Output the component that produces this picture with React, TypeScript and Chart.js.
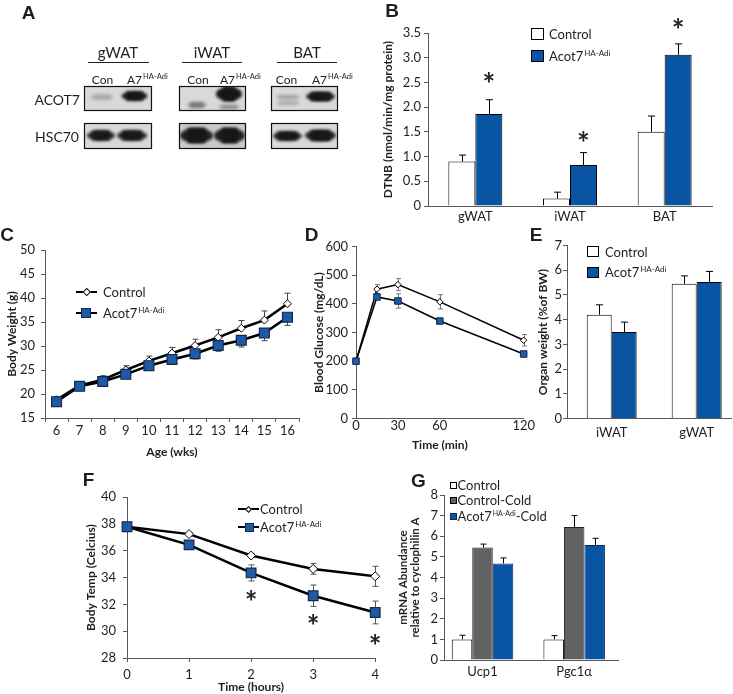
import React, { useEffect, useRef } from 'react';
import { Chart, registerables } from 'chart.js';
Chart.register(...registerables);

const FONT = 'Lato, "Open Sans", "DejaVu Sans", sans-serif';
const LETTER_FONT = '"Liberation Sans", Arial, sans-serif';
const TXT = '#1f1f1f';
const AXIS = '#595959';
const BLUE = '#0a55a3';
const MARK_BLUE = '#1d5ba6';
const NAVY = '#14284d';
const GREY = '#616264';

// ---------- Panel B: DTNB activity ----------
const bCategories = ['gWAT', 'iWAT', 'BAT'];
const bControl = [0.9, 0.15, 1.5];
const bControlErr = [0.13, 0.13, 0.32];
const bAcot = [1.86, 0.83, 3.06];
const bAcotErr = [0.29, 0.25, 0.22];
const bStars = [2.59, 1.4, 3.7];

// ---------- Panel C: body weight ----------
const cWeeks = ['6', '7', '8', '9', '10', '11', '12', '13', '14', '15', '16'];
const cControl = [18.8, 21.8, 23.0, 25.0, 26.9, 28.5, 30.1, 31.8, 33.7, 35.4, 38.8];
const cControlErr = [0.6, 0.7, 0.8, 0.9, 1.0, 1.2, 1.3, 1.6, 1.6, 1.9, 2.2];
const cAcot = [18.4, 21.6, 22.6, 24.1, 25.9, 27.2, 28.4, 30.1, 31.2, 32.7, 36.0];
const cAcotErr = [0.5, 0.6, 0.7, 0.8, 0.8, 0.9, 1.1, 1.2, 1.4, 1.6, 1.7];

// ---------- Panel D: glucose tolerance ----------
const dTimes = [0, 15, 30, 60, 120];
const dTickValues = [0, 30, 60, 120];
const dControl = [200, 451, 467, 407, 273];
const dControlErr = [4, 16, 21, 25, 20];
const dAcot = [200, 424, 410, 340, 225];
const dAcotErr = [4, 8, 25, 5, 8];

// ---------- Panel E: organ weight ----------
const eCategories = ['iWAT', 'gWAT'];
const eControl = [4.2, 5.45];
const eControlErr = [0.4, 0.32];
const eAcot = [3.5, 5.52];
const eAcotErr = [0.4, 0.43];

// ---------- Panel F: body temperature ----------
const fHours = [0, 1, 2, 3, 4];
const fControl = [37.8, 37.25, 35.65, 34.65, 34.1];
const fControlErr = [0.1, 0.12, 0.15, 0.4, 0.75];
const fAcot = [37.8, 36.45, 34.35, 32.65, 31.4];
const fAcotErr = [0.1, 0.2, 0.6, 0.8, 0.85];
const fStars = [null, null, 32.7, 30.85, 29.35];

// ---------- Panel G: mRNA ----------
const gCategories = ['Ucp1', 'Pgc1\u03b1'];
const gControl = [1.0, 1.0];
const gControlErr = [0.2, 0.18];
const gCold = [5.45, 6.45];
const gColdErr = [0.17, 0.55];
const gAcotCold = [4.68, 5.58];
const gAcotColdErr = [0.27, 0.32];

// ---------- plugins ----------
function valueOf(raw: any) {
  return typeof raw === 'number' ? raw : raw.y;
}

function drawErrors(chart: any, opts: any) {
  const ctx = chart.ctx;
  const ys = chart.scales.y;
  chart.data.datasets.forEach((ds: any, i: number) => {
    const meta = chart.getDatasetMeta(i);
    if (!ds.errUp && !ds.errDown) return;
    ctx.save();
    ctx.strokeStyle = opts.color || '#000';
    ctx.lineWidth = opts.width || 1;
    const cap = opts.cap || 6;
    meta.data.forEach((el: any, j: number) => {
      const v = valueOf(ds.data[j]);
      const x = Math.round(el.x) + 0.5;
      const y0 = ys.getPixelForValue(v);
      ctx.beginPath();
      if (ds.errUp) {
        const yt = ys.getPixelForValue(v + ds.errUp[j]);
        ctx.moveTo(x, y0);
        ctx.lineTo(x, yt);
        ctx.moveTo(x - cap / 2, yt);
        ctx.lineTo(x + cap / 2, yt);
      }
      if (ds.errDown) {
        const yb = ys.getPixelForValue(v - ds.errDown[j]);
        ctx.moveTo(x, y0);
        ctx.lineTo(x, yb);
        ctx.moveTo(x - cap / 2, yb);
        ctx.lineTo(x + cap / 2, yb);
      }
      ctx.stroke();
    });
    ctx.restore();
  });
}

const errorBars = {
  id: 'errbars',
  beforeDatasetsDraw(chart: any, _a: any, opts: any) {
    if (opts && opts.behind) drawErrors(chart, opts);
  },
  afterDatasetsDraw(chart: any, _a: any, opts: any) {
    if (opts && !opts.behind) drawErrors(chart, opts);
  },
};

const stars = {
  id: 'stars',
  afterDatasetsDraw(chart: any, _a: any, opts: any) {
    if (!opts || !opts.values) return;
    const ctx = chart.ctx;
    const meta = chart.getDatasetMeta(opts.datasetIndex);
    ctx.save();
    ctx.fillStyle = '#222';
    ctx.font = `bold ${opts.size || 26}px ${FONT}`;
    ctx.textAlign = 'center';
    ctx.textBaseline = 'alphabetic';
    const m = ctx.measureText('*');
    const off = (m.actualBoundingBoxAscent - m.actualBoundingBoxDescent) / 2;
    opts.values.forEach((v: any, j: number) => {
      if (v == null) return;
      const x = meta.data[j].x;
      const y = chart.scales.y.getPixelForValue(v);
      ctx.fillText('*', x, y + off);
    });
    ctx.restore();
  },
};

// ---------- helpers ----------
const tickFont = { family: FONT, size: 13 };
const titleFont = { family: FONT, size: 12, weight: 'bold' };
const noGrid = { display: false, drawTicks: false };

function yAxis(min: number, max: number, step: number, width: number, title: any, titlePad: number, tickPad: number, cb?: any, tfont?: any) {
  return {
    type: 'linear',
    min,
    max,
    ticks: { stepSize: step, font: tickFont, color: TXT, padding: tickPad, callback: cb },
    grid: { display: true, drawOnChartArea: false, drawTicks: true, tickLength: 4, color: AXIS },
    border: { display: true, color: AXIS, width: 1 },
    title: { display: true, text: title, font: tfont || titleFont, color: TXT, padding: { top: titlePad, bottom: 0 } },
    afterFit: (s: any) => {
      s.width = width;
    },
  };
}

function baseOptions(pt: number, pr: number, scales: any, plugins: any) {
  return {
    responsive: false,
    maintainAspectRatio: false,
    animation: false,
    events: [],
    layout: { padding: { top: pt, right: pr, left: 0, bottom: 0 } },
    plugins: { legend: { display: false }, tooltip: { enabled: false }, ...plugins },
    scales,
  };
}

function ChartCanvas({ left, top, width, height, make }: any) {
  const ref = useRef<HTMLCanvasElement>(null);
  useEffect(() => {
    const c = new Chart(ref.current as HTMLCanvasElement, make());
    return () => c.destroy();
  }, []);
  return (
    <canvas
      ref={ref}
      width={width}
      height={height}
      style={{ position: 'absolute', left, top, width, height }}
    />
  );
}

function finishBar(cfg: any, cp: number) {
  cfg.data.datasets.forEach((d: any) => {
    d.barPercentage = 1;
    d.categoryPercentage = cp;
  });
  return cfg;
}

// ---------- chart configs ----------
function makeB() {
  return finishBar(
    {
      type: 'bar',
      data: {
        labels: bCategories,
        datasets: [
          { label: 'Control', data: bControl, backgroundColor: '#ffffff', borderColor: '#000', borderWidth: 1, errUp: bControlErr },
          { label: 'Acot7', data: bAcot, backgroundColor: BLUE, borderColor: '#000', borderWidth: 1, errUp: bAcotErr },
        ],
      },
      options: baseOptions(
        33,
        21,
        {
          x: {
            type: 'category',
            offset: true,
            grid: noGrid,
            border: { display: true, color: AXIS },
            ticks: { font: tickFont, color: TXT, padding: 3, maxRotation: 0, autoSkip: false },
            afterFit: (s: any) => {
              s.height = 20;
            },
          },
          y: yAxis(0, 3.5, 0.5, 68, 'DTNB (nmol/min/mg protein)', 21, 3, (v: any) => (v === 0 ? '0' : Number(v).toFixed(1))),
        },
        { errbars: { behind: false, color: '#000', width: 1, cap: 7 }, stars: { datasetIndex: 1, values: bStars, size: 30 } }
      ),
      plugins: [errorBars, stars],
    } as any,
    0.57
  );
}

function makeC() {
  return {
    type: 'line',
    data: {
      labels: cWeeks,
      datasets: [
        {
          label: 'Control', data: cControl, borderColor: '#000', borderWidth: 2.5, tension: 0, clip: false,
          pointStyle: 'rectRot', pointRadius: 4, pointBackgroundColor: '#fff', pointBorderColor: '#000', pointBorderWidth: 1,
          errUp: cControlErr,
        },
        {
          label: 'Acot7', data: cAcot, borderColor: '#000', borderWidth: 2.5, tension: 0, clip: false, order: -1,
          pointStyle: 'rect', pointRadius: 7, pointBackgroundColor: MARK_BLUE, pointBorderColor: NAVY, pointBorderWidth: 1.2,
          errDown: cAcotErr,
        },
      ],
    },
    options: baseOptions(
      20,
      11,
      {
        x: {
          type: 'category',
          offset: true,
          grid: { display: true, offset: true, drawOnChartArea: false, drawTicks: true, tickLength: 4, color: AXIS },
          border: { display: true, color: AXIS },
          ticks: { font: tickFont, color: TXT, padding: 1.5, maxRotation: 0, autoSkip: false },
          title: { display: true, text: 'Age (wks)', font: titleFont, color: TXT, padding: { top: 0, bottom: 2 } },
          afterFit: (s: any) => {
            s.height = 43;
          },
        },
        y: yAxis(15, 50, 5, 45, 'Body Weight (g)', 5, 6),
      },
      { errbars: { behind: true, color: '#444', width: 1, cap: 6 } }
    ),
    plugins: [errorBars],
  } as any;
}

function makeD() {
  return {
    type: 'line',
    data: {
      datasets: [
        {
          label: 'Control', data: dTimes.map((t, i) => ({ x: t, y: dControl[i] })), borderColor: '#000', borderWidth: 1.5, tension: 0, clip: false,
          pointStyle: 'rectRot', pointRadius: 3.2, pointBackgroundColor: '#fff', pointBorderColor: '#000', pointBorderWidth: 1,
          errUp: dControlErr, errDown: dControlErr,
        },
        {
          label: 'Acot7', data: dTimes.map((t, i) => ({ x: t, y: dAcot[i] })), borderColor: '#000', borderWidth: 1.5, tension: 0, clip: false, order: -1,
          pointStyle: 'rect', pointRadius: 4.6, pointBackgroundColor: MARK_BLUE, pointBorderColor: NAVY, pointBorderWidth: 1,
          errUp: dAcotErr, errDown: dAcotErr,
        },
      ],
    },
    options: baseOptions(
      16.5,
      10,
      {
        x: {
          type: 'linear',
          min: 0,
          max: 120,
          afterBuildTicks: (s: any) => {
            s.ticks = dTickValues.map((v) => ({ value: v }));
          },
          grid: noGrid,
          border: { display: true, color: AXIS },
          ticks: { font: tickFont, color: TXT, padding: 0, maxRotation: 0, autoSkip: false },
          title: { display: true, text: 'Time (min)', font: titleFont, color: TXT, padding: { top: 0, bottom: 2 } },
          afterFit: (s: any) => {
            s.height = 35.5;
          },
        },
        y: yAxis(0, 600, 100, 56, 'Blood Glucose (mg/dL)', 12, 4),
      },
      { errbars: { behind: true, color: '#777', width: 1, cap: 5 } }
    ),
    plugins: [errorBars],
  } as any;
}

function makeE() {
  return finishBar(
    {
      type: 'bar',
      data: {
        datasets: [
          { label: 'Control', data: eControl.map((v, i) => ({ x: i, y: v })), backgroundColor: '#fff', borderColor: '#000', borderWidth: 1, errUp: eControlErr },
          { label: 'Acot7', data: eAcot.map((v, i) => ({ x: i, y: v })), backgroundColor: BLUE, borderColor: '#000', borderWidth: 1, errUp: eAcotErr },
        ],
      },
      options: baseOptions(
        15.5,
        2,
        {
          x: {
            type: 'linear',
            offset: false,
            min: -0.526,
            max: 1.404,
            afterBuildTicks: (s: any) => {
              s.ticks = eCategories.map((_c, i) => ({ value: i }));
            },
            grid: noGrid,
            border: { display: true, color: AXIS },
            ticks: { font: tickFont, color: TXT, padding: 7, maxRotation: 0, autoSkip: false, callback: (v: any) => eCategories[v] },
            afterFit: (s: any) => {
              s.height = 26.5;
            },
          },
          y: yAxis(0, 7, 1, 42, 'Organ weight (%of BW)', 11, 1),
        },
        { errbars: { behind: false, color: '#000', width: 1, cap: 7 } }
      ),
      plugins: [errorBars],
    } as any,
    0.588
  );
}

function makeF() {
  return {
    type: 'line',
    data: {
      datasets: [
        {
          label: 'Control', data: fHours.map((t, i) => ({ x: t, y: fControl[i] })), borderColor: '#000', borderWidth: 2.5, tension: 0, clip: false,
          pointStyle: 'rectRot', pointRadius: 4.5, pointBackgroundColor: '#fff', pointBorderColor: '#000', pointBorderWidth: 1,
          errUp: fControlErr, errDown: fControlErr,
        },
        {
          label: 'Acot7', data: fHours.map((t, i) => ({ x: t, y: fAcot[i] })), borderColor: '#000', borderWidth: 2.5, tension: 0, clip: false, order: -1,
          pointStyle: 'rect', pointRadius: 6.8, pointBackgroundColor: MARK_BLUE, pointBorderColor: NAVY, pointBorderWidth: 1.2,
          errUp: fAcotErr, errDown: fAcotErr,
        },
      ],
    },
    options: baseOptions(
      27.3,
      8,
      {
        x: {
          type: 'linear',
          min: 0,
          max: 4,
          ticks: { stepSize: 1, font: tickFont, color: TXT, padding: 5, maxRotation: 0, autoSkip: false },
          grid: { display: true, drawOnChartArea: false, drawTicks: true, tickLength: 4, color: AXIS },
          border: { display: true, color: AXIS },
          title: { display: true, text: 'Time (hours)', font: titleFont, color: TXT, padding: { top: 0, bottom: 0 } },
          afterFit: (s: any) => {
            s.height = 36;
          },
        },
        y: yAxis(28, 40, 2, 57, 'Body Temp (Celcius)', 14, 7),
      },
      {
        errbars: { behind: true, color: '#555', width: 1, cap: 6 },
        stars: { datasetIndex: 1, values: fStars, size: 30 },
      }
    ),
    plugins: [errorBars, stars],
  } as any;
}

function makeG() {
  return finishBar(
    {
      type: 'bar',
      data: {
        datasets: [
          { label: 'Control', data: gControl.map((v, i) => ({ x: i, y: v })), backgroundColor: '#fff', borderColor: '#000', borderWidth: 1, errUp: gControlErr },
          { label: 'Control-Cold', data: gCold.map((v, i) => ({ x: i, y: v })), backgroundColor: GREY, borderColor: '#222', borderWidth: 1, errUp: gColdErr },
          { label: 'Acot7-Cold', data: gAcotCold.map((v, i) => ({ x: i, y: v })), backgroundColor: BLUE, borderColor: '#0a2a55', borderWidth: 1, errUp: gAcotColdErr },
        ],
      },
      options: baseOptions(
        25,
        115,
        {
          x: {
            type: 'linear',
            offset: false,
            min: -0.42,
            max: 1.478,
            afterBuildTicks: (s: any) => {
              s.ticks = gCategories.map((_c, i) => ({ value: i }));
            },
            grid: noGrid,
            border: { display: true, color: AXIS },
            ticks: { font: tickFont, color: TXT, padding: 4, maxRotation: 0, autoSkip: false, callback: (v: any) => gCategories[v] },
            afterFit: (s: any) => {
              s.height = 34;
            },
          },
          y: yAxis(0, 8, 1, 60, ['mRNA Abundance', 'relative to cyclophilin A'], 14, 2, undefined, { family: FONT, size: 11.5, weight: 'bold', lineHeight: 1.0 }),
        },
        { errbars: { behind: false, color: '#000', width: 1, cap: 6 } }
      ),
      plugins: [errorBars],
    } as any,
    0.671
  );
}

// ---------- overlay text helpers ----------
function T({ x, y, s = 13, b = false, a = 'c', f, children }: any) {
  const tx = a === 'c' ? '-50%' : a === 'r' ? '-100%' : '0';
  return (
    <div
      style={{
        position: 'absolute',
        left: x,
        top: y,
        transform: `translate(${tx},-50%)`,
        fontSize: s,
        fontWeight: b ? 700 : 400,
        lineHeight: 1,
        whiteSpace: 'nowrap',
        fontFamily: f || FONT,
        color: TXT,
      }}
    >
      {children}
    </div>
  );
}
function Sup({ children, s = 8, t = -5 }: any) {
  return <span style={{ fontSize: s, position: 'relative', top: t, marginLeft: 1 }}>{children}</span>;
}
function Box({ x, y, w, h, bg, bc = '#000' }: any) {
  return (
    <div style={{ position: 'absolute', left: x, top: y, width: w, height: h, background: bg, border: `1px solid ${bc}`, boxSizing: 'border-box' }} />
  );
}
function LineMark({ x1, x2, y, lw, kind, size, mx }: any) {
  const cx = mx ?? (x1 + x2) / 2;
  return (
    <>
      <div style={{ position: 'absolute', left: x1, top: y - lw / 2, width: x2 - x1, height: lw, background: '#000' }} />
      {kind === 'diamond' ? (
        <div
          style={{
            position: 'absolute', left: cx - size / 2, top: y - size / 2, width: size, height: size,
            background: '#fff', border: '1px solid #000', boxSizing: 'border-box', transform: 'rotate(45deg)',
          }}
        />
      ) : (
        <div
          style={{
            position: 'absolute', left: cx - size / 2, top: y - size / 2, width: size, height: size,
            background: MARK_BLUE, border: `1px solid ${NAVY}`, boxSizing: 'border-box',
          }}
        />
      )}
    </>
  );
}

// ---------- Panel A: western blot ----------
function Blot() {
  const ref = useRef<HTMLCanvasElement>(null);
  useEffect(() => {
    const ctx = (ref.current as HTMLCanvasElement).getContext('2d') as any;
    const cols = [
      { x: 84, w: 68 },
      { x: 179, w: 67 },
      { x: 271, w: 67 },
    ];
    const rows = [
      { y: 86, h: 25 },
      { y: 123, h: 26 },
    ];
    const bands: any[] = [
      [0, 0, 102, 97, 24, 6, 0.13],
      [0, 0, 134.5, 96, 26, 9, 0.95],
      [0, 1, 101, 135.5, 28, 10, 0.9],
      [0, 1, 132, 135.5, 30, 10, 0.9],
      [1, 0, 197, 105, 20, 6, 0.3],
      [1, 0, 229, 94, 26, 14, 1.0],
      [1, 0, 229, 107, 22, 5, 0.2],
      [1, 1, 196.5, 135.5, 33, 15, 0.95],
      [1, 1, 229.5, 135.5, 31, 15, 0.95],
      [2, 0, 288, 97, 24, 4, 0.15],
      [2, 0, 288, 103, 24, 4, 0.12],
      [2, 0, 320.5, 96.5, 29, 9, 0.95],
      [2, 1, 287.5, 136, 29, 9, 0.9],
      [2, 1, 320.5, 135.5, 31, 11, 0.92],
    ];
    cols.forEach((c, ci) => {
      rows.forEach((r, ri) => {
        ctx.save();
        ctx.beginPath();
        ctx.rect(c.x, r.y, c.w, r.h);
        ctx.clip();
        ctx.fillStyle = ci === 1 && ri === 1 ? '#c9c9c9' : '#d9d9d9';
        ctx.fillRect(c.x, r.y, c.w, r.h);
        bands
          .filter((b) => b[0] === ci && b[1] === ri)
          .forEach((b) => {
            const [, , cx, cy, w, h, a] = b;
            ctx.save();
            ctx.filter = 'blur(1.6px)';
            ctx.globalAlpha = a;
            ctx.fillStyle = '#161616';
            ctx.beginPath();
            ctx.ellipse(cx, cy, w / 2, h / 2, 0, 0, Math.PI * 2);
            ctx.fill();
            ctx.fillRect(cx - w / 2 + h / 2, cy - h / 2, w - h, h);
            ctx.restore();
          });
        ctx.restore();
        ctx.strokeStyle = '#111';
        ctx.lineWidth = 1.2;
        ctx.strokeRect(c.x + 0.5, r.y + 0.5, c.w - 1, r.h - 1);
      });
    });
  }, []);
  return <canvas ref={ref} width={360} height={170} style={{ position: 'absolute', left: 0, top: 0 }} />;
}

function Line({ x, y, w }: any) {
  return <div style={{ position: 'absolute', left: x, top: y, width: w, height: 1.3, background: '#222' }} />;
}

export default function App() {
  useEffect(() => {
    document.body.style.margin = '0';
  }, []);
  return (
    <div
      style={{
        position: 'absolute', left: 0, top: 0, width: 733, height: 694, background: '#fff',
        overflow: 'hidden', fontFamily: FONT, color: TXT,
      }}
    >
      {/* Panel A */}
      <Blot />
      <T x={118} y={51.5} s={15}>gWAT</T>
      <T x={212} y={51.5} s={15}>iWAT</T>
      <T x={307} y={51.5} s={15}>BAT</T>
      <Line x={88} y={61.5} w={61} />
      <Line x={182} y={61.5} w={60} />
      <Line x={277} y={61.5} w={60} />
      <T x={102.5} y={80} s={12}>Con</T>
      <T x={198} y={80} s={12}>Con</T>
      <T x={286.5} y={80} s={12}>Con</T>
      <T x={127} y={80} s={12} a="l">A7<Sup s={7.5} t={-5}>HA-Adi</Sup></T>
      <T x={220} y={80} s={12} a="l">A7<Sup s={7.5} t={-5}>HA-Adi</Sup></T>
      <T x={312} y={80} s={12} a="l">A7<Sup s={7.5} t={-5}>HA-Adi</Sup></T>
      <T x={80} y={100} s={14} a="r">ACOT7</T>
      <T x={79} y={137} s={14} a="r">HSC70</T>

      {/* charts */}
      <ChartCanvas left={360} top={0} width={373} height={226} make={makeB} />
      <ChartCanvas left={0} top={230} width={310} height={231} make={makeC} />
      <ChartCanvas left={300} top={230} width={235} height={224} make={makeD} />
      <ChartCanvas left={525} top={230} width={208} height={215} make={makeE} />
      <ChartCanvas left={70} top={470} width={314} height={224} make={makeF} />
      <ChartCanvas left={384} top={470} width={349} height={224} make={makeG} />

      {/* Legend B */}
      <Box x={531} y={28} w={13} h={12} bg="#fff" />
      <Box x={531} y={49.5} w={13} h={12} bg={BLUE} />
      <T x={549} y={34} a="l">Control</T>
      <T x={549} y={56} a="l">Acot7<Sup>HA-Adi</Sup></T>

      {/* Legend C */}
      <LineMark x1={76} x2={97} y={292} lw={2.5} kind="diamond" size={5.5} mx={86.5} />
      <LineMark x1={76} x2={97} y={313} lw={2.5} kind="square" size={10} mx={86} />
      <T x={103} y={292} a="l">Control</T>
      <T x={103} y={313} a="l">Acot7<Sup>HA-Adi</Sup></T>

      {/* Legend E */}
      <Box x={587} y={246} w={12} h={11} bg="#fff" />
      <Box x={587} y={267} w={12} h={11} bg={BLUE} />
      <T x={605} y={251.5} a="l">Control</T>
      <T x={605} y={272} a="l">Acot7<Sup>HA-Adi</Sup></T>

      {/* Legend F */}
      <LineMark x1={238} x2={259} y={509} lw={2.5} kind="diamond" size={5} mx={248} />
      <LineMark x1={238} x2={259} y={527} lw={2.5} kind="square" size={9} mx={249} />
      <T x={260} y={509} a="l">Control</T>
      <T x={260} y={527} a="l">Acot7<Sup>HA-Adi</Sup></T>

      {/* Legend G */}
      <Box x={450} y={481.5} w={7} h={7} bg="#fff" />
      <Box x={450} y={496.5} w={7} h={7} bg={GREY} />
      <Box x={450} y={512.5} w={7} h={7} bg={BLUE} bc="#0a2a55" />
      <T x={457.5} y={485} a="l">Control</T>
      <T x={457.5} y={500} a="l">Control-Cold</T>
      <T x={457.5} y={516} a="l">Acot7<Sup s={7} t={-5}>HA-Adi</Sup>-Cold</T>

      {/* Panel letters */}
      <T x={28.5} y={11.5} s={19} b f={LETTER_FONT}>A</T>
      <T x={392} y={9.5} s={19} b f={LETTER_FONT}>B</T>
      <T x={7} y={233.5} s={19} b f={LETTER_FONT}>C</T>
      <T x={311.5} y={233.5} s={19} b f={LETTER_FONT}>D</T>
      <T x={536} y={233.5} s={19} b f={LETTER_FONT}>E</T>
      <T x={88.5} y={478.5} s={19} b f={LETTER_FONT}>F</T>
      <T x={418.5} y={480} s={19} b f={LETTER_FONT}>G</T>
    </div>
  );
}
